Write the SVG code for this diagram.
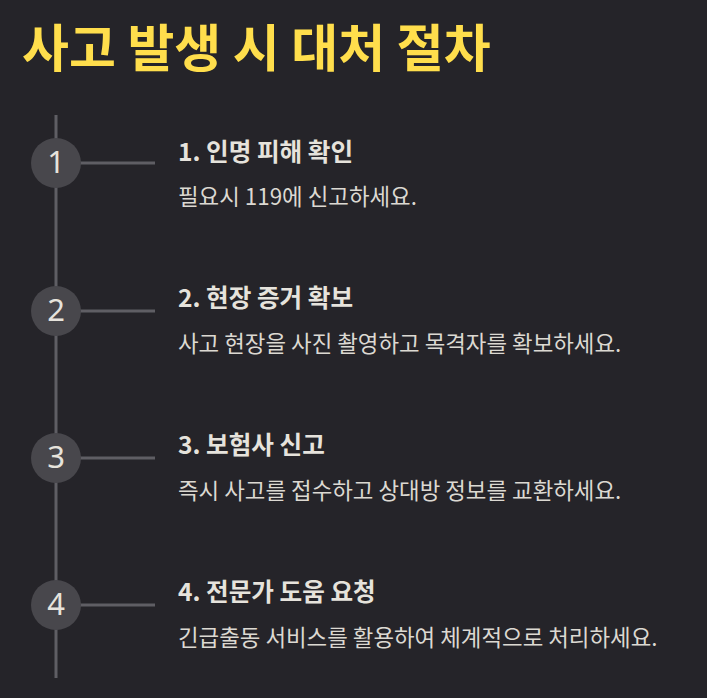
<svg xmlns="http://www.w3.org/2000/svg" width="707" height="698" viewBox="0 0 707 698">
<style>
.title{font-family:"Noto Sans CJK KR","Noto Sans",sans-serif;font-weight:700;font-size:51px;fill:#ffde4c}
.h{font-family:"Noto Sans CJK KR","Noto Sans",sans-serif;font-weight:700;font-size:24.6px;fill:#e6e3dc}
.d{font-family:"Noto Sans CJK KR","Noto Sans",sans-serif;font-weight:400;font-size:22.4px;fill:#dcd9d2}
.num{font-family:"Noto Sans","Noto Sans CJK KR",sans-serif;font-size:31px;fill:#e6e3dc;text-anchor:middle}
.circ{fill:#48474c}
.conn line{stroke:#5f5e64;stroke-width:3}
</style>
<rect width="707" height="698" fill="#252429"/>
<text class="title" x="22" y="67">사고 발생 시 대처 절차</text>
<g class="conn">
<line x1="56" y1="115" x2="56" y2="678"/>
<line x1="56" y1="163" x2="155" y2="163"/>
<line x1="56" y1="311" x2="155" y2="311"/>
<line x1="56" y1="458" x2="155" y2="458"/>
<line x1="56" y1="605" x2="155" y2="605"/>
</g>
<g id="step1">
<circle class="circ" cx="56" cy="163" r="25"/>
<text class="num" x="56" y="173">1</text>
<text class="h" x="178" y="161">1. 인명 피해 확인</text>
<text class="d" x="178" y="205">필요시 119에 신고하세요.</text>
</g>
<g id="step2">
<circle class="circ" cx="56" cy="311" r="25"/>
<text class="num" x="56" y="321">2</text>
<text class="h" x="178" y="307">2. 현장 증거 확보</text>
<text class="d" x="178" y="352">사고 현장을 사진 촬영하고 목격자를 확보하세요.</text>
</g>
<g id="step3">
<circle class="circ" cx="56" cy="458" r="25"/>
<text class="num" x="56" y="468">3</text>
<text class="h" x="178" y="454">3. 보험사 신고</text>
<text class="d" x="178" y="499">즉시 사고를 접수하고 상대방 정보를 교환하세요.</text>
</g>
<g id="step4">
<circle class="circ" cx="56" cy="605" r="25"/>
<text class="num" x="56" y="615">4</text>
<text class="h" x="178" y="601">4. 전문가 도움 요청</text>
<text class="d" x="178" y="646">긴급출동 서비스를 활용하여 체계적으로 처리하세요.</text>
</g>
</svg>
